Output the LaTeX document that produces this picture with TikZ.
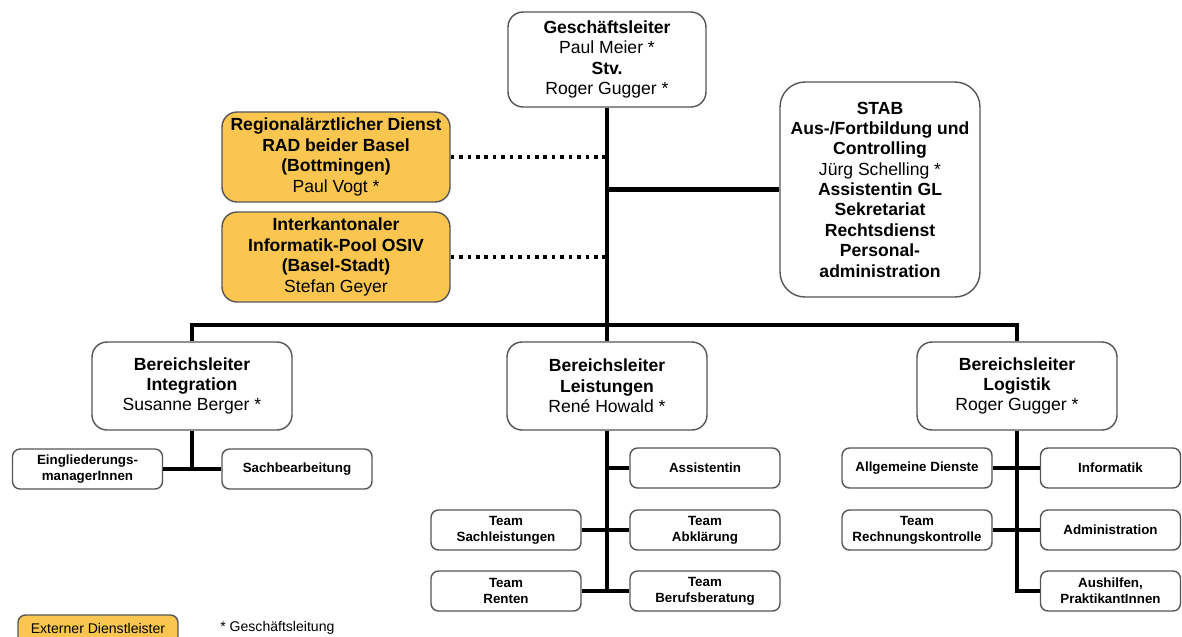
\documentclass[tikz,border=0pt]{standalone}
\usepackage{fontspec}
\setmainfont{Liberation Sans}
\usepackage{tikz}
\definecolor{extern}{RGB}{250,198,80}
\definecolor{rahmen}{RGB}{85,85,85}

\begin{document}
\begin{tikzpicture}[x=0.02cm, y=-0.02cm,
    box/.style={draw=rahmen, line width=0.8pt, fill=white, rounded corners=0.3cm,
        align=center, inner sep=0pt, font=\fontsize{10}{11.6}\selectfont},
    chefbox/.style={box, minimum width=4cm, minimum height=1.76cm},
    externbox/.style={box, fill=extern, minimum width=4.56cm, minimum height=1.8cm},
    teambox/.style={box, rounded corners=0.15cm, minimum width=3cm, minimum height=0.8cm,
        font=\fontsize{7.6}{9}\selectfont\bfseries},
    trunk/.style={line width=2.3pt},
    extline/.style={line width=2pt, dash pattern=on 2pt off 2.8pt}]
    \useasboundingbox (0, 0) rectangle (1182, 636);
    \clip (0, 0) rectangle (1182, 636);
    % top box.
    \node[chefbox, minimum width=3.96cm, minimum height=1.9cm] (gl) at (607, 59.5)
        {\textbf{Geschäftsleiter}\\Paul Meier *\\\textbf{Stv.}\\Roger Gugger *};
    % external services.
    \node[externbox] (rad) at (336, 157)
        {\textbf{Regionalärztlicher Dienst}\\\textbf{RAD beider Basel}\\\textbf{(Bottmingen)}\\Paul Vogt *};
    \node[externbox] (osiv) at (336, 257)
        {\textbf{Interkantonaler}\\\textbf{Informatik-Pool OSIV}\\\textbf{(Basel-Stadt)}\\Stefan Geyer};
    % staff box.
    \node[box, rounded corners=0.5cm, minimum width=4cm, minimum height=4.3cm] (stab) at (880, 189.5)
        {\textbf{STAB}\\\textbf{Aus-/Fortbildung und}\\\textbf{Controlling}\\Jürg Schelling *\\
         \textbf{Assistentin GL}\\\textbf{Sekretariat}\\\textbf{Rechtsdienst}\\\textbf{Personal-}\\\textbf{administration}};
    \draw[trunk] (stab.west) -- (stab.west -| gl.south);
    \draw[extline] (rad.east) -- (rad.east -| gl.south);
    \draw[extline] (osiv.east) -- (osiv.east -| gl.south);
    % department heads.
    \node[chefbox] (integ) at (192, 386) {\textbf{Bereichsleiter}\\\textbf{Integration}\\Susanne Berger *};
    \node[chefbox] (leist) at (607, 386) {\textbf{Bereichsleiter}\\\textbf{Leistungen}\\René Howald *};
    \node[chefbox] (logi) at (1017, 386) {\textbf{Bereichsleiter}\\\textbf{Logistik}\\Roger Gugger *};
    \coordinate (bar) at (607, 325);
    \draw[trunk] (gl.south) -- (leist.north);
    \draw[trunk] (integ.north) |- (bar) -| (logi.north);
    % integration teams.
    \node[teambox] (eingl) at (87.5, 469) {Eingliederungs-\\managerInnen};
    \node[teambox] (sachb) at (297, 469) {Sachbearbeitung};
    \draw[trunk] (integ.south) -- (integ.south |- eingl.east);
    \draw[trunk] (eingl.east) -- (sachb.west);
    % benefits teams.
    \node[teambox] (assist) at (705, 468) {Assistentin};
    \node[teambox] (sachl) at (506, 530) {Team\\Sachleistungen};
    \node[teambox] (abkl) at (705, 530) {Team\\Abklärung};
    \node[teambox] (renten) at (506, 591) {Team\\Renten};
    \node[teambox] (beruf) at (705, 591) {Team\\Berufsberatung};
    \draw[trunk] (leist.south) -- (leist.south |- renten.east);
    \draw[trunk] (assist.west) -- (assist.west -| leist.south);
    \draw[trunk] (sachl.east) -- (abkl.west);
    \draw[trunk] (renten.east) -- (beruf.west);
    % logistics teams.
    \node[teambox] (allg) at (917, 468) {Allgemeine Dienste};
    \node[teambox, minimum width=2.8cm] (inform) at (1110.5, 468) {Informatik};
    \node[teambox] (rechn) at (917, 530) {Team\\Rechnungskontrolle};
    \node[teambox, minimum width=2.8cm] (admin) at (1110.5, 530) {Administration};
    \node[teambox, minimum width=2.8cm] (aushilf) at (1110.5, 591) {Aushilfen,\\PraktikantInnen};
    \draw[trunk] (logi.south) |- (aushilf.west);
    \draw[trunk] (allg.east) -- (inform.west);
    \draw[trunk] (rechn.east) -- (admin.west);
    % legend.
    \node[box, fill=extern, rounded corners=0.15cm, minimum width=3.2cm, minimum height=0.6cm,
        font=\fontsize{8}{9}\selectfont] (legende) at (98, 630) {\raisebox{0.08cm}{Externer Dienstleister}};
    \node[anchor=west, inner sep=0pt, font=\fontsize{8}{9}\selectfont] (gl note) at (220, 628) {* Geschäftsleitung};
\end{tikzpicture}
\end{document}
